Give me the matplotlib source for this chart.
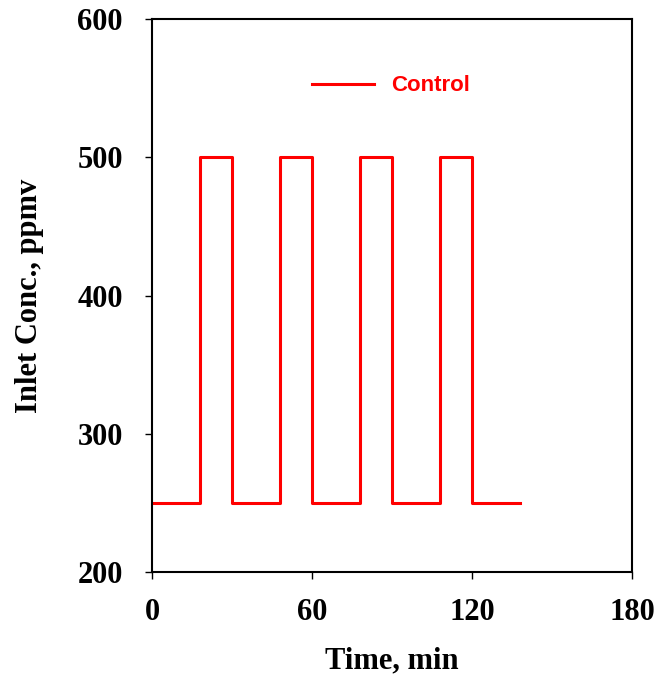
import matplotlib
matplotlib.use("Agg")
import matplotlib.pyplot as plt

# step profile of the inlet concentration
time_min = [0, 18, 18, 30, 30, 48, 48, 60, 60, 78, 78, 90, 90, 108, 108, 120, 120, 138]
conc_ppmv = [250, 250, 500, 500, 250, 250, 500, 500, 250, 250, 500, 500, 250, 250, 500, 500, 250, 250]
xticks = [0, 60, 120, 180]
yticks = [200, 300, 400, 500, 600]

fig = plt.figure(figsize=(6.61, 6.81), dpi=100)
ax = fig.add_axes([0.230, 0.160, 0.726, 0.812])

ax.plot(time_min, conc_ppmv, color="#ff0000", lw=2.2, label="Control")

ax.set_xlim(0, 180)
ax.set_ylim(200, 600)
ax.set_xticks(xticks)
ax.set_yticks(yticks)

serif = {"family": "Liberation Serif", "weight": "bold", "size": 22}
ax.set_xticklabels([str(t) for t in xticks], fontdict=serif)
ax.set_yticklabels([str(t) for t in yticks], fontdict=serif)
ax.tick_params(axis="x", direction="out", length=5, width=1, pad=14)
ax.tick_params(axis="y", direction="out", length=5, width=1, pad=16)

ax.set_xlabel("Time, min", fontdict=serif, labelpad=14)
ax.set_ylabel("Inlet Conc., ppmv", fontdict=serif, labelpad=24)

for s in ax.spines.values():
    s.set_linewidth(1.5)

leg = ax.legend(loc="center left", bbox_to_anchor=(0.333, 0.879), frameon=False,
                borderaxespad=0, borderpad=0,
                handlelength=2.8, handletextpad=0.75,
                prop={"family": "Liberation Sans", "weight": "bold", "size": 16})
for t in leg.get_texts():
    t.set_color("#ff0000")

fig.savefig("out.png", dpi=100)
